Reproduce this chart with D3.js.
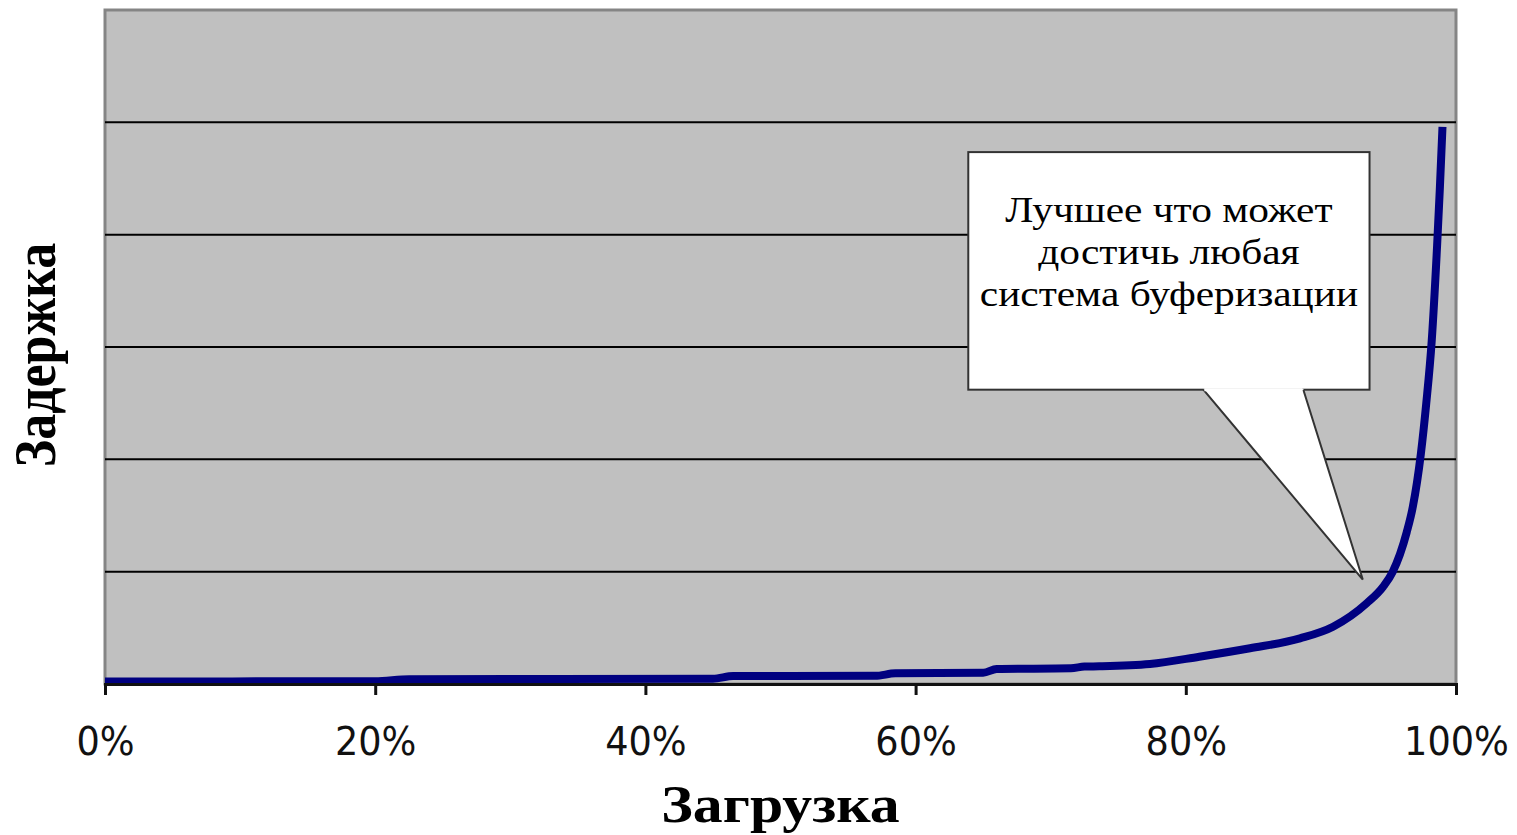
<!DOCTYPE html>
<html><head><meta charset="utf-8">
<script src="https://cdn.jsdelivr.net/npm/d3@7"></script>
<style>html,body{margin:0;padding:0;background:#fff;overflow:hidden}</style>
</head><body>
<svg id="c" width="1517" height="835"></svg>
<script>
// Data (load fraction -> delay)
const load  = [0, 0.20, 0.225, 0.45, 0.465, 0.57, 0.585, 0.65, 0.66, 0.715, 0.725, 0.736, 0.7735, 0.81, 0.8475, 0.8845, 0.909, 0.934, 0.946, 0.953, 0.9635, 0.968, 0.974, 0.978, 0.982, 0.986, 0.988, 0.990];
const delay = [0.45, 0.5, 0.85, 0.95, 1.42, 1.45, 1.9, 2.0, 2.67, 2.8, 3.1, 3.15, 3.56, 4.86, 6.36, 8.13, 10.2, 14.4, 17.3, 19.9, 27.0, 31.5, 41.0, 50.0, 61.0, 78.0, 88.0, 99.2];
const xTicks = [0, 0.2, 0.4, 0.6, 0.8, 1.0];
const yGrid = [20, 40, 60, 80, 100];
const xTitle = "Загрузка";
const yTitle = "Задержка";
const calloutLines = ["Лучшее что может", "достичь любая", "система буферизации"];

const svg = d3.select("#c");
const L = 105, R = 1456, T = 10, B = 684;
const x = d3.scaleLinear().domain([0, 1]).range([L, R]);
const y = d3.scaleLinear().domain([0, 120]).range([B, T]);

// plot background
svg.append("rect").attr("x", L).attr("y", T).attr("width", R - L).attr("height", B - T)
  .attr("fill", "#c0c0c0").attr("stroke", "#858585").attr("stroke-width", 3);

// gridlines
svg.append("g").selectAll("line").data(yGrid).join("line")
  .attr("x1", L).attr("x2", R).attr("y1", d => y(d)).attr("y2", d => y(d))
  .attr("stroke", "#000").attr("stroke-width", 2);

// curve
const line = d3.line().x(d => x(d[0])).y(d => y(d[1])).curve(d3.curveMonotoneX);
svg.append("path").datum(load.map((v, i) => [v, delay[i]]))
  .attr("d", line).attr("fill", "none").attr("stroke", "#000080")
  .attr("stroke-width", 8).attr("stroke-linejoin", "round").attr("stroke-linecap", "butt");

// x axis
const xAxis = d3.axisBottom(x).tickValues(xTicks).tickSize(11).tickPadding(20)
  .tickFormat(d3.format(".0%"));
const gx = svg.append("g").attr("transform", `translate(0,${B})`).call(xAxis);
gx.select(".domain").attr("stroke", "#111").attr("stroke-width", 3);
gx.selectAll(".tick line").attr("stroke", "#111").attr("stroke-width", 3);
gx.selectAll(".tick text").attr("font-family", "DejaVu Sans").attr("font-size", 39)
  .attr("fill", "#111").attr("dy", null).attr("y", 0)
  .attr("transform", "translate(0,71) scale(0.94,1)");

// callout
const bx0 = x(0.639), bx1 = x(0.936), by0 = y(94.7), by1 = y(52.4);
const p0 = x(0.813), p1 = x(0.887), tipX = x(0.931), tipY = y(18.6);
const g = svg.append("g");
g.append("rect").attr("x", bx0).attr("y", by0).attr("width", bx1 - bx0).attr("height", by1 - by0)
  .attr("fill", "#fff").attr("stroke", "#333").attr("stroke-width", 2);
g.append("path").attr("d", `M${p0},${by1 - 1}L${tipX},${tipY}L${p1},${by1 - 1}Z`).attr("fill", "#fff");
g.append("path").attr("d", `M${p0},${by1}L${tipX},${tipY}L${p1},${by1}`)
  .attr("fill", "none").attr("stroke", "#333").attr("stroke-width", 2);
g.append("line").attr("x1", p0 + 1).attr("x2", p1 - 1).attr("y1", by1).attr("y2", by1)
  .attr("stroke", "#fff").attr("stroke-width", 3);
const cx = (bx0 + bx1) / 2;
calloutLines.forEach((t, i) => {
  g.append("text").text(t).attr("text-anchor", "middle")
    .attr("font-family", "Liberation Serif").attr("font-size", 36).attr("fill", "#000")
    .attr("transform", `translate(${cx},${222 + i * 42}) scale(1.15,1)`);
});

// titles
svg.append("text").text(xTitle).attr("text-anchor", "middle")
  .attr("font-family", "Liberation Serif").attr("font-weight", "bold").attr("font-size", 52)
  .attr("transform", `translate(${(L + R) / 2},822) scale(1.15,1)`);
svg.append("text").text(yTitle).attr("text-anchor", "middle")
  .attr("font-family", "Liberation Serif").attr("font-weight", "bold").attr("font-size", 52)
  .attr("transform", `translate(55,355) scale(1.15,1) rotate(-90)`);
</script>
</body></html>
